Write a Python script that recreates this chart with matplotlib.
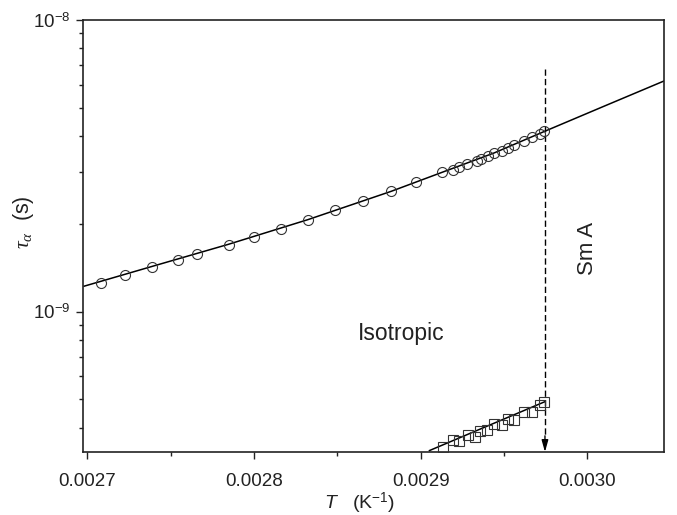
import math
import matplotlib
matplotlib.use("Agg")
import matplotlib.pyplot as plt
from matplotlib.ticker import FixedLocator, LogLocator, FuncFormatter, NullFormatter

plt.rcParams['font.family'] = ['Liberation Sans', 'DejaVu Sans']
plt.rcParams['mathtext.fontset'] = 'custom'
plt.rcParams['mathtext.rm'] = 'Liberation Sans'
plt.rcParams['mathtext.it'] = 'Liberation Serif:italic'
plt.rcParams['mathtext.sf'] = 'Liberation Sans:italic'
plt.rcParams['mathtext.bf'] = 'Liberation Sans:bold'

# circles (isotropic data)
iso_x = [0.002708, 0.0027224, 0.0027386, 0.0027542, 0.0027659, 0.0027847, 0.0027998,
         0.0028162, 0.0028324, 0.0028483, 0.0028652, 0.0028824, 0.0028973, 0.0029129,
         0.0029192, 0.0029228, 0.0029278, 0.0029335, 0.0029364, 0.0029403, 0.0029442,
         0.0029489, 0.0029523, 0.0029559, 0.0029617, 0.0029669, 0.0029713, 0.0029742]
iso_y = [1.250e-9, 1.332e-9, 1.419e-9, 1.508e-9, 1.573e-9, 1.697e-9, 1.808e-9,
         1.926e-9, 2.067e-9, 2.226e-9, 2.395e-9, 2.585e-9, 2.783e-9, 3.003e-9,
         3.067e-9, 3.125e-9, 3.208e-9, 3.293e-9, 3.346e-9, 3.426e-9, 3.490e-9,
         3.565e-9, 3.650e-9, 3.738e-9, 3.847e-9, 3.981e-9, 4.077e-9, 4.164e-9]

# fit curve through circles
fit_x = [0.0026980, 0.0027385, 0.0027846, 0.0028323, 0.0028823, 0.0029128,
         0.0029440, 0.0029740, 0.0030103, 0.0030460]
fit_y = [1.222e-9, 1.427e-9, 1.701e-9, 2.067e-9, 2.585e-9, 3.003e-9,
         3.499e-9, 4.143e-9, 5.070e-9, 6.178e-9]

# squares
sq_x = [0.0029135, 0.0029195, 0.0029229, 0.0029281, 0.0029327, 0.0029353, 0.0029397,
        0.0029442, 0.0029486, 0.0029525, 0.0029561, 0.0029618, 0.0029670, 0.0029714,
        0.0029742]
sq_y = [3.444e-10, 3.631e-10, 3.612e-10, 3.777e-10, 3.728e-10, 3.909e-10, 3.930e-10,
        4.110e-10, 4.089e-10, 4.276e-10, 4.253e-10, 4.517e-10, 4.540e-10, 4.786e-10,
        4.914e-10]
sq_fit_x = [0.0029052, 0.0029746]
sq_fit_y = [3.338e-10, 4.914e-10]

# transition line
t_x = 0.0029745
t_top = 6.8e-9

xticks = [0.0027, 0.0028, 0.0029, 0.0030]
xtick_labels = ['0.0027', '0.0028', '0.0029', '0.0030']
xlim = (0.0026975, 0.003046)
ylim = (3.30e-10, 1e-8)

fig = plt.figure(figsize=(6.77, 5.15), dpi=100)
ax = fig.add_axes([0.123, 0.1223, 0.858, 0.839])

ax.plot(fit_x, fit_y, color='black', lw=1.1, zorder=2)
ax.plot(iso_x, iso_y, linestyle='none', marker='o', ms=7.2, mfc='none',
        mec='#333333', mew=0.8, zorder=3)
ax.plot(sq_fit_x, sq_fit_y, color='black', lw=1.1, zorder=2)
ax.plot(sq_x, sq_y, linestyle='none', marker='s', ms=6.5, mfc='none',
        mec='#333333', mew=0.8, zorder=3)

ax.plot([t_x, t_x], [t_top, 3.75e-10], color='black', lw=1.0,
        linestyle=(0, (4.5, 2.3)), zorder=2)
ax.annotate('', xy=(t_x, ylim[0]), xytext=(t_x, 3.75e-10),
            arrowprops=dict(arrowstyle='-|>,head_length=1.0,head_width=0.28',
                            mutation_scale=7, color='black', lw=1.0,
                            shrinkA=0, shrinkB=0))

ax.set_yscale('log')
ax.set_xlim(*xlim)
ax.set_ylim(*ylim)

ax.xaxis.set_major_locator(FixedLocator(xticks))
ax.set_xticklabels(xtick_labels)
ax.xaxis.set_minor_locator(FixedLocator([0.00275, 0.00285, 0.00295, 0.00305]))
ax.yaxis.set_major_locator(FixedLocator([1e-9, 1e-8]))
ax.yaxis.set_major_formatter(FuncFormatter(lambda v, p: r'$10^{%d}$' % round(math.log10(v))))
ax.yaxis.set_minor_locator(LogLocator(base=10, subs=[2, 3, 4, 5, 6, 7, 8, 9]))
ax.yaxis.set_minor_formatter(NullFormatter())

ax.tick_params(which='both', direction='out', top=False, right=False, width=1.0,
               colors='#222222', labelcolor='#222222')
ax.tick_params(which='major', length=5, labelsize=13.5)
ax.tick_params(axis='x', which='major', pad=10)
ax.tick_params(axis='y', which='major', pad=4)
ax.tick_params(which='minor', length=3)
for s in ax.spines.values():
    s.set_linewidth(1.2)
    s.set_color('#222222')

ax.set_xlabel(r'$\mathsf{T}$   (K$^{-1}$)', fontsize=14, color='#222222')
ax.xaxis.set_label_coords(0.475, -0.09)
ax.set_ylabel(r'$\tau_\alpha$  (s)', fontsize=15.5, color='#222222')
ax.yaxis.set_label_coords(-0.082, 0.532)

ax.text(0.002888, 8.4e-10, 'Isotropic', fontsize=16.5, ha='center', va='center',
        color='#222222')
ax.text(0.0030, 1.65e-9, 'Sm A', fontsize=16, ha='center', va='center',
        rotation=90, color='#222222')

fig.savefig('out.png', dpi=100)
